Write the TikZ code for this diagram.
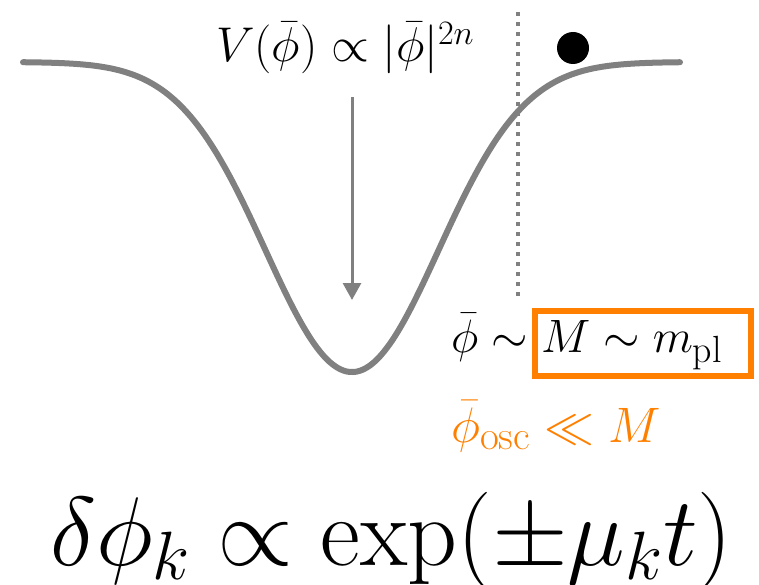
\RequirePackage{fix-cm}
\documentclass[tikz,border=0pt]{standalone}
\usetikzlibrary{arrows.meta}
\definecolor{curvegray}{RGB}{128,128,128}
\definecolor{boxorange}{RGB}{255,128,0}
\newcommand{\subtxt}[2][38]{\mbox{\fontsize{#1}{40}\selectfont\rmfamily #2}}
\tikzset{
  potential/.style={curvegray, line width=6bp, line cap=round},
  fallarrow/.style={curvegray, line width=3bp, -{Triangle[length=17bp,width=18bp]}},
  cutline/.style={curvegray, line width=4bp, dash pattern=on 4bp off 6bp},
  eqtext/.style={inner sep=0pt, anchor=base west},
  hibox/.style={draw=boxorange, line width=6bp}
}
\begin{document}
\begin{tikzpicture}[x=1bp,y=-1bp]
\useasboundingbox (0,0) rectangle (759,585);
% potential curve
\draw[potential] plot[domain=23:680, samples=200, smooth] (\x, {62+310*exp(-((\x-352)/100)^2/1.5)});
% arrow
\coordinate (atop) at (352,97);
\coordinate (abot) at (352,300);
\draw[fallarrow] (atop) -- (abot);
% dotted line
\coordinate (dtop) at (518,12);
\coordinate (dbot) at (518,302);
\draw[cutline] (dtop) -- (dbot);
% ball
\fill (573,48) circle (16);
% texts
\node[eqtext] (pot) at (216,62) {\fontsize{49}{58}\selectfont $V(\bar\phi)\propto|\bar\phi|^{2n}$};
\node[eqtext] (phi) at (451,352) {\fontsize{47}{56}\selectfont $\bar\phi\sim$};
\node[eqtext] (mm) at (541,352) {\fontsize{47}{56}\selectfont $M\sim m_{\subtxt{pl}}$};
\draw[hibox] (535,311) rectangle (751,376);
\node[eqtext, text=boxorange] (osc) at (451,442) {\fontsize{50}{60}\selectfont $\bar\phi_{\subtxt[41]{osc}}\ll M$};
\node[eqtext] (mode) at (50,565) {\fontsize{98}{110}\selectfont $\delta\phi_k\propto\exp(\pm\mu_k t)$};
\end{tikzpicture}
\end{document}
